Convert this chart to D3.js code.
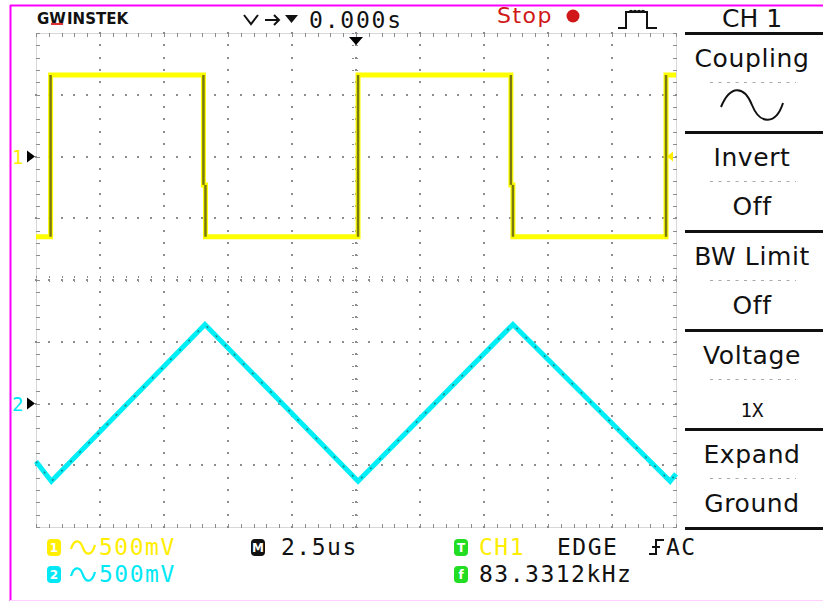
<!DOCTYPE html>
<html>
<head>
<meta charset="utf-8">
<script src="https://cdn.jsdelivr.net/npm/d3@7/dist/d3.min.js"></script>
<style>
  html, body { margin: 0; padding: 0; background: #fff; }
  svg { display: block; }
  .mono { font-family: "DejaVu Sans Mono", monospace; }
  .sans { font-family: "DejaVu Sans", sans-serif; }
</style>
</head>
<body>
<svg id="scope" width="823" height="601"></svg>
<script>
// ---- Acquired waveforms (time in µs, level in volts) ----
const ch1Time = [-12.5, -11.93, -11.93, -5.96, -5.96, -5.88, -5.88, 0.08, 0.08, 6.05, 6.05, 6.13, 6.13, 12.11, 12.11, 12.5];
const ch1Volt = [-0.65, -0.65, 0.66, 0.66, -0.23, -0.23, -0.65, -0.65, 0.66, 0.66, -0.23, -0.23, -0.65, -0.65, 0.66, 0.66];

const ch2Time = [-12.5, -11.9, -5.9, 0.08, 6.13, 12.27, 12.5];
const ch2Volt = [-0.47, -0.63, 0.64, -0.63, 0.64, -0.63, -0.57];

// ---- Settings shown on screen ----
const voltsPerDiv = 0.5;       // 500mV/div for both channels
const usPerDiv = 2.5;          // 2.5us/div
const ch1OffsetDiv = 2;        // CH1 ground marker position (divisions)
const ch2OffsetDiv = -2;       // CH2 ground marker position (divisions)
const triggerLevel = 0;        // CH1 trigger level (V)

const menuTitles = ["Coupling", "Invert", "BW Limit", "Voltage", "Expand"];
const menuValues = ["~", "Off", "Off", "1X", "Ground"];

const statusRow1 = { ch1: "500mV", timebase: "2.5us", trigSrc: "CH1", trigType: "EDGE", trigCoupling: "AC" };
const statusRow2 = { ch2: "500mV", freq: "83.3312kHz" };

// ---- Geometry ----
const P = { left: 36, right: 676, top: 33, bottom: 527 };
const svg = d3.select("#scope");

const x = d3.scaleLinear().domain([-5 * usPerDiv, 5 * usPerDiv]).range([P.left, P.right]);
const yDiv = d3.scaleLinear().domain([-4, 4]).range([P.bottom, P.top]);
const y1 = d3.scaleLinear()
  .domain([(-4 - ch1OffsetDiv) * voltsPerDiv, (4 - ch1OffsetDiv) * voltsPerDiv])
  .range([P.bottom, P.top]);
const y2 = d3.scaleLinear()
  .domain([(-4 - ch2OffsetDiv) * voltsPerDiv, (4 - ch2OffsetDiv) * voltsPerDiv])
  .range([P.bottom, P.top]);

// ---- Outer frame ----
svg.append("line").attr("x1", 10).attr("x2", 823).attr("y1", 5.5).attr("y2", 5.5)
  .attr("stroke", "#ff00ff").attr("stroke-width", 2);
svg.append("line").attr("x1", 10.5).attr("x2", 10.5).attr("y1", 5).attr("y2", 601)
  .attr("stroke", "#ff00ff").attr("stroke-width", 2);
svg.append("line").attr("x1", 10).attr("x2", 823).attr("y1", 600.5).attr("y2", 600.5)
  .attr("stroke", "#ffd0ff").attr("stroke-width", 1);

// ---- Graticule ----
const grid = svg.append("g");
const dotColor = "#8c8c8c";
const xMinor = d3.range(-12.5, 12.5001, 0.5);
const yMinor = d3.range(-4, 4.0001, 0.2);
const xMajor = d3.range(-10, 10.001, 2.5);
const yMajor = d3.range(-3, 3.001, 1);

// border
grid.append("rect")
  .attr("x", P.left + 0.5).attr("y", P.top + 0.5)
  .attr("width", P.right - P.left).attr("height", P.bottom - P.top)
  .attr("fill", "none").attr("stroke", "#b0b0b0").attr("stroke-dasharray", "1,1");
// border ticks
xMinor.forEach(t => {
  const xx = Math.round(x(t)) + 0.5;
  grid.append("line").attr("x1", xx).attr("x2", xx).attr("y1", P.top).attr("y2", P.top + 4)
    .attr("stroke", dotColor);
  grid.append("line").attr("x1", xx).attr("x2", xx).attr("y1", P.bottom - 3).attr("y2", P.bottom + 1)
    .attr("stroke", dotColor);
});
yMinor.forEach(d => {
  const yy = Math.round(yDiv(d)) + 0.5;
  grid.append("line").attr("x1", P.left).attr("x2", P.left + 4).attr("y1", yy).attr("y2", yy)
    .attr("stroke", dotColor);
  grid.append("line").attr("x1", P.right - 3).attr("x2", P.right + 1).attr("y1", yy).attr("y2", yy)
    .attr("stroke", dotColor);
});
// dotted division lines
xMajor.forEach(t => {
  yMinor.forEach(d => {
    grid.append("rect").attr("x", Math.round(x(t)) - 1).attr("y", Math.round(yDiv(d)) - 1)
      .attr("width", 2).attr("height", 2).attr("fill", dotColor);
  });
});
yMajor.forEach(d => {
  xMinor.forEach(t => {
    grid.append("rect").attr("x", Math.round(x(t)) - 1).attr("y", Math.round(yDiv(d)) - 1)
      .attr("width", 2).attr("height", 2).attr("fill", dotColor);
  });
});
// centre-line cross ticks
yMinor.forEach(d => {
  const yy = Math.round(yDiv(d)) + 0.5;
  grid.append("line").attr("x1", x(0) - 4).attr("x2", x(0) + 4).attr("y1", yy).attr("y2", yy)
    .attr("stroke", dotColor).attr("stroke-dasharray", "2,2");
});
xMinor.forEach(t => {
  const xx = Math.round(x(t)) + 0.5;
  grid.append("line").attr("x1", xx).attr("x2", xx).attr("y1", yDiv(0) - 4).attr("y2", yDiv(0) + 4)
    .attr("stroke", dotColor).attr("stroke-dasharray", "2,2");
});

// ---- Traces ----
const ch1 = ch1Time.map((t, i) => [t, ch1Volt[i]]);
const ch2 = ch2Time.map((t, i) => [t, ch2Volt[i]]);

const line1 = d3.line().x(d => x(d[0])).y(d => y1(d[1]));
const line2 = d3.line().x(d => x(d[0])).y(d => y2(d[1]));

svg.append("path").datum(ch2).attr("d", line2)
  .attr("fill", "none").attr("stroke", "#00eef5").attr("stroke-width", 5)
  .attr("stroke-linejoin", "miter");
svg.append("path").datum(ch2).attr("d", line2)
  .attr("fill", "none").attr("stroke", "#1c6e70").attr("stroke-width", 1.5)
  .attr("stroke-dasharray", "2,11").attr("opacity", 0.8);

svg.append("path").datum(ch1).attr("d", line1)
  .attr("fill", "none").attr("stroke", "#ffff00").attr("stroke-width", 5)
  .attr("stroke-linejoin", "miter");
// vertical edges drawn darker
const edges = [];
for (let i = 1; i < ch1.length; i++) {
  if (ch1[i][0] === ch1[i - 1][0]) edges.push([ch1[i - 1], ch1[i]]);
}
svg.append("g").selectAll("line").data(edges).join("line")
  .attr("x1", d => x(d[0][0])).attr("x2", d => x(d[1][0]))
  .attr("y1", d => y1(d[0][1])).attr("y2", d => y1(d[1][1]))
  .attr("stroke", "#7a7a10").attr("stroke-width", 2.5);

// ---- Markers ----
// trigger position (top)
svg.append("path")
  .attr("d", `M${x(0) - 7},${P.top + 4} L${x(0) + 7},${P.top + 4} L${x(0)},${P.top + 12} Z`)
  .attr("fill", "#000");
// trigger level (right edge)
const tl = y1(triggerLevel);
svg.append("path")
  .attr("d", `M${P.right - 9},${tl} L${P.right - 3},${tl - 5} L${P.right - 3},${tl + 5} Z`)
  .attr("fill", "#ffee00");
// channel ground markers
[[y1(0), "1", "#ffee00"], [y2(0), "2", "#00e8f5"]].forEach(([yy, lab, col]) => {
  svg.append("text").attr("x", 12).attr("y", yy + 7).text(lab)
    .attr("class", "mono").attr("font-size", 19).attr("fill", col);
  svg.append("path").attr("d", `M${P.left - 9},${yy - 6} L${P.left - 1},${yy} L${P.left - 9},${yy + 6} Z`)
    .attr("fill", "#000");
});

// ---- Top status bar ----
const topBar = svg.append("g");
topBar.append("text").attr("x", 37).attr("y", 24).text("GW")
  .attr("class", "sans").attr("font-size", 15).attr("font-weight", "bold").attr("fill", "#111");
topBar.append("rect").attr("x", 51).attr("y", 23).attr("width", 12).attr("height", 2).attr("fill", "#e03030");
topBar.append("text").attr("x", 67).attr("y", 24).text("INSTEK")
  .attr("class", "sans").attr("font-size", 15).attr("font-weight", "bold").attr("fill", "#111");
// trigger-position indicator
topBar.append("path").attr("d", "M244,15 L251,24 L258,15")
  .attr("fill", "none").attr("stroke", "#111").attr("stroke-width", 2);
topBar.append("path").attr("d", "M265,20 L279,20 M274,15 L279,20 L274,25")
  .attr("fill", "none").attr("stroke", "#111").attr("stroke-width", 2);
topBar.append("path").attr("d", "M285,15 L298,15 L291.5,23 Z").attr("fill", "#111");
topBar.append("text").attr("x", 309).attr("y", 28).text("0.000s")
  .attr("class", "mono").attr("font-size", 23).attr("letter-spacing", 1.8).attr("fill", "#111");
topBar.append("text").attr("x", 497).attr("y", 23).text("Stop")
  .attr("class", "sans").attr("font-size", 22).attr("letter-spacing", 1.5).attr("fill", "#d01818");
topBar.append("circle").attr("cx", 573).attr("cy", 16).attr("r", 6.5).attr("fill", "#d01818");
topBar.append("path")
  .attr("d", "M618,28 L626,28 L626,12 L647,12 L647,28 L657,28")
  .attr("fill", "none").attr("stroke", "#111").attr("stroke-width", 2);
topBar.append("path")
  .attr("d", "M629,12 q2,-3 4,0 q2,-3 4,0 q2,-3 4,0 q2,-3 4,0")
  .attr("fill", "none").attr("stroke", "#111").attr("stroke-width", 1.5);

// ---- Side menu ----
const menu = svg.append("g");
const mx = 752;
menu.append("text").attr("x", mx).attr("y", 27).attr("text-anchor", "middle").text("CH 1")
  .attr("class", "sans").attr("font-size", 25).attr("fill", "#111");
d3.range(6).forEach(k => {
  menu.append("rect").attr("x", 685).attr("y", 32 + 99 * k).attr("width", 138).attr("height", 3)
    .attr("fill", "#111");
});
menuTitles.forEach((t, k) => {
  const y0 = 33 + 99 * k;
  menu.append("text").attr("x", mx).attr("y", y0 + 34).attr("text-anchor", "middle").text(t)
    .attr("class", "sans").attr("font-size", 25).attr("letter-spacing", 0.6).attr("fill", "#111");
  menu.append("line").attr("x1", 710).attr("x2", 796).attr("y1", y0 + 49.5).attr("y2", y0 + 49.5)
    .attr("stroke", "#a8a8a8").attr("stroke-dasharray", "3,5.5");
  const v = menuValues[k];
  if (v === "~") {
    menu.append("path")
      .attr("d", `M${mx - 31},${y0 + 74} C${mx - 22},${y0 + 52} ${mx - 8},${y0 + 52} ${mx},${y0 + 72} C${mx + 8},${y0 + 92} ${mx + 24},${y0 + 92} ${mx + 31},${y0 + 70}`)
      .attr("fill", "none").attr("stroke", "#111").attr("stroke-width", 2);
  } else if (v === "1X") {
    menu.append("text").attr("x", mx).attr("y", y0 + 87).attr("text-anchor", "middle").text(v)
      .attr("class", "mono").attr("font-size", 19).attr("fill", "#111");
  } else {
    menu.append("text").attr("x", mx).attr("y", y0 + 83).attr("text-anchor", "middle").text(v)
      .attr("class", "sans").attr("font-size", 25).attr("letter-spacing", 0.6).attr("fill", "#111");
  }
});

// ---- Bottom status ----
const bot = svg.append("g");
function badge(xx, yy, label, fill) {
  bot.append("rect").attr("x", xx).attr("y", yy - 16).attr("width", 14).attr("height", 17).attr("rx", 4)
    .attr("fill", fill);
  bot.append("text").attr("x", xx + 7).attr("y", yy - 3).attr("text-anchor", "middle").text(label)
    .attr("class", "sans").attr("font-size", 12).attr("font-weight", "bold").attr("fill", "#fff");
}
function sine(xx, yy, col) {
  bot.append("path")
    .attr("d", `M${xx},${yy + 1} C${xx + 3},${yy - 9} ${xx + 9},${yy - 9} ${xx + 12},${yy} C${xx + 15},${yy + 8} ${xx + 21},${yy + 8} ${xx + 24},${yy - 3}`)
    .attr("fill", "none").attr("stroke", col).attr("stroke-width", 2.2);
}
function mono(xx, yy, str, col) {
  bot.append("text").attr("x", xx).attr("y", yy).text(str)
    .attr("class", "mono").attr("font-size", 23).attr("letter-spacing", 1.5).attr("fill", col);
}
const r1 = 555, r2 = 582;
badge(47, r1, "1", "#ffee00"); sine(71, r1 - 7, "#ffee00"); mono(99, r1, statusRow1.ch1, "#ffee00");
badge(47, r2, "2", "#00e8f5"); sine(71, r2 - 7, "#00e8f5"); mono(99, r2, statusRow2.ch2, "#00e8f5");
badge(251, r1, "M", "#111"); mono(281, r1, statusRow1.timebase, "#111");
badge(454, r1, "T", "#22dd22"); mono(479, r1, statusRow1.trigSrc, "#ffee00");
mono(557, r1, statusRow1.trigType, "#111");
bot.append("path").attr("d", `M649,${r1 - 1} L656,${r1 - 1} L656,${r1 - 15} L664,${r1 - 15} M652,${r1 - 8} L660,${r1 - 8}`)
  .attr("fill", "none").attr("stroke", "#111").attr("stroke-width", 2);
mono(666, r1, statusRow1.trigCoupling, "#111");
badge(454, r2, "f", "#22dd22"); mono(479, r2, statusRow2.freq, "#111");
</script>
</body>
</html>
